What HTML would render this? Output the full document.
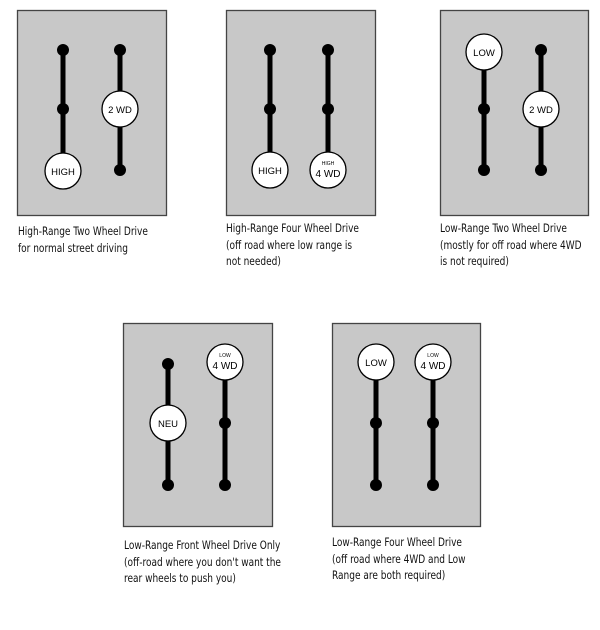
<!DOCTYPE html>
<html><head><style>
body{margin:0;background:#fff;width:600px;height:630px;position:relative;overflow:hidden;font-family:"DejaVu Sans Condensed","Liberation Sans",sans-serif}
.t{position:absolute;font-size:11.5px;line-height:16.5px;color:#111;white-space:nowrap;transform:scaleX(0.87);transform-origin:0 0}
</style></head><body>
<svg width="600" height="630" style="position:absolute;left:0;top:0" font-family="Liberation Sans, sans-serif">
<g stroke="#444" stroke-width="1.3" fill="#c8c8c8">
<rect x="17.5" y="10.5" width="149" height="205"/>
<rect x="226.5" y="10.5" width="149" height="205"/>
<rect x="440.5" y="10.5" width="148" height="205"/>
<rect x="123.5" y="323.5" width="149" height="203"/>
<rect x="332.5" y="323.5" width="148" height="203"/>
</g>
<g stroke="#000" stroke-width="5">
<line x1="63" y1="50" x2="63" y2="171"/><line x1="120" y1="50" x2="120" y2="170"/>
<line x1="270" y1="50" x2="270" y2="170"/><line x1="328" y1="50" x2="328" y2="170"/>
<line x1="484" y1="52" x2="484" y2="170"/><line x1="541" y1="50" x2="541" y2="170"/>
<line x1="168" y1="364" x2="168" y2="485"/><line x1="225" y1="362" x2="225" y2="485"/>
<line x1="376" y1="362" x2="376" y2="485"/><line x1="433" y1="362" x2="433" y2="485"/>
</g>
<g fill="#000">
<circle cx="63" cy="50" r="6"/><circle cx="63" cy="109" r="6"/><circle cx="120" cy="50" r="6"/><circle cx="120" cy="170" r="6"/>
<circle cx="270" cy="50" r="6"/><circle cx="270" cy="109" r="6"/><circle cx="328" cy="50" r="6"/><circle cx="328" cy="109" r="6"/>
<circle cx="484" cy="109" r="6"/><circle cx="484" cy="170" r="6"/><circle cx="541" cy="50" r="6"/><circle cx="541" cy="170" r="6"/>
<circle cx="168" cy="364" r="6"/><circle cx="168" cy="485" r="6"/><circle cx="225" cy="423" r="6"/><circle cx="225" cy="485" r="6"/>
<circle cx="376" cy="423" r="6"/><circle cx="376" cy="485" r="6"/><circle cx="433" cy="423" r="6"/><circle cx="433" cy="485" r="6"/>
</g>
<g fill="#fff" stroke="#000" stroke-width="1.3">
<circle cx="63" cy="171" r="18"/><circle cx="120" cy="109" r="18"/>
<circle cx="270" cy="170" r="18"/><circle cx="328" cy="170" r="18"/>
<circle cx="484" cy="52" r="18"/><circle cx="541" cy="109" r="18"/>
<circle cx="168" cy="423" r="18"/><circle cx="225" cy="362" r="18"/>
<circle cx="376" cy="362" r="18"/><circle cx="433" cy="362" r="18"/>
</g>
<g font-size="9.5" text-anchor="middle" fill="#000">
<text x="63" y="175">HIGH</text><text x="120" y="113">2 WD</text>
<text x="270" y="174">HIGH</text><text x="328" y="177" font-size="10">4 WD</text><text x="328" y="165" font-size="5">HIGH</text>
<text x="484" y="56">LOW</text><text x="541" y="113">2 WD</text>
<text x="168" y="427">NEU</text><text x="225" y="369" font-size="10">4 WD</text><text x="225" y="357" font-size="5">LOW</text>
<text x="376" y="366">LOW</text><text x="433" y="369" font-size="10">4 WD</text><text x="433" y="357" font-size="5">LOW</text>
</g>
</svg>
<div class="t" style="left:18px;top:223px">High-Range Two Wheel Drive<br>for normal street driving</div>
<div class="t" style="left:226px;top:220px">High-Range Four Wheel Drive<br>(off road where low range is<br>not needed)</div>
<div class="t" style="left:440px;top:220px">Low-Range Two Wheel Drive<br>(mostly for off road where 4WD<br>is not required)</div>
<div class="t" style="left:124px;top:537px">Low-Range Front Wheel Drive Only<br>(off-road where you don't want the<br>rear wheels to push you)</div>
<div class="t" style="left:332px;top:534px">Low-Range Four Wheel Drive<br>(off road where 4WD and Low<br>Range are both required)</div>
</body></html>
